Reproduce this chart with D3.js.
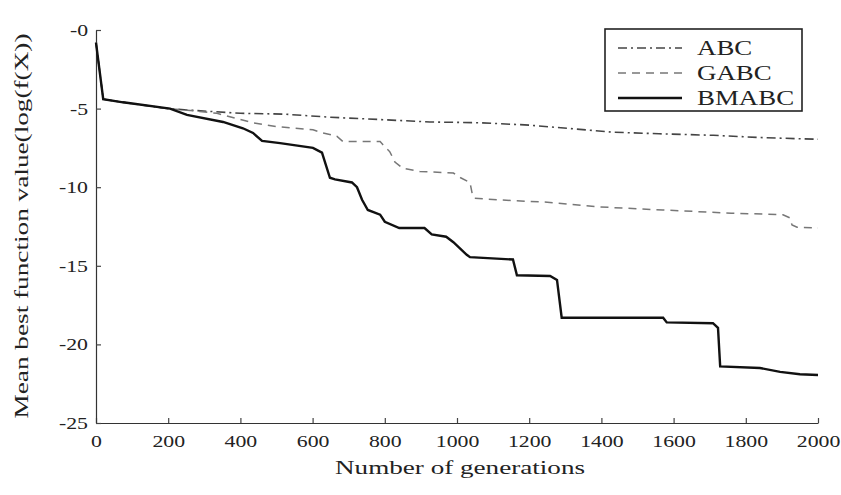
<!DOCTYPE html>
<html>
<head>
<meta charset="utf-8">
<script src="https://cdn.jsdelivr.net/npm/d3@7"></script>
<style>
  body { margin: 0; background: #fff; }
  text { font-family: "Liberation Serif", "DejaVu Serif", serif; fill: #222; }
</style>
</head>
<body>
<div id="chart"></div>
<script>
// series data (generation, log value)
const abcGen = [0, 20, 60, 120, 200, 260, 400, 520, 650, 790, 925, 1064, 1200, 1330, 1430, 1560, 1710, 1850, 2000];
const abcVal = [-0.8, -4.4, -4.55, -4.75, -5.0, -5.1, -5.3, -5.35, -5.55, -5.7, -5.85, -5.9, -6.05, -6.3, -6.5, -6.6, -6.7, -6.85, -6.95];

const gabcGen = [0, 20, 60, 120, 200, 252, 335, 435, 501, 601, 629, 667, 684, 787, 795, 814, 828, 850, 897, 990, 1010, 1036, 1042, 1048, 1150, 1250, 1390, 1570, 1760, 1903, 1922, 1928, 1942, 2000];
const gabcVal = [-0.8, -4.4, -4.55, -4.75, -5.0, -5.1, -5.3, -5.9, -6.15, -6.35, -6.55, -6.75, -7.1, -7.1, -7.3, -7.75, -8.4, -8.8, -9.0, -9.1, -9.4, -9.7, -10.4, -10.7, -10.85, -10.95, -11.25, -11.45, -11.65, -11.75, -11.95, -12.4, -12.55, -12.6];

const bmabcGen = [0, 20, 75, 205, 252, 352, 407, 435, 460, 510, 601, 626, 648, 662, 709, 723, 737, 753, 787, 800, 840, 910, 930, 970, 990, 1027, 1036, 1155, 1166, 1258, 1277, 1290, 1571, 1581, 1709, 1723, 1729, 1839, 1895, 1950, 2000];
const bmabcVal = [-0.8, -4.4, -4.6, -5.0, -5.4, -5.85, -6.25, -6.55, -7.05, -7.2, -7.5, -7.8, -9.4, -9.5, -9.7, -10.0, -10.8, -11.45, -11.75, -12.2, -12.6, -12.6, -13.0, -13.15, -13.5, -14.3, -14.45, -14.6, -15.6, -15.65, -15.9, -18.3, -18.3, -18.6, -18.65, -18.95, -21.4, -21.5, -21.75, -21.9, -21.95];

const xTicks = [0, 200, 400, 600, 800, 1000, 1200, 1400, 1600, 1800, 2000];
const yTicks = [-25, -20, -15, -10, -5, 0];
const yTickLabels = ["-25", "-20", "-15", "-10", "-5", "-0"];
const seriesNames = ["ABC", "GABC", "BMABC"];

const W = 841, H = 495;
const margin = {top: 30, right: 23, bottom: 72, left: 96};
const width = W - margin.left - margin.right;
const height = H - margin.top - margin.bottom;

// text in the reference is stretched along its run
const stretch = 1.28;
function stretchText(sel, len) {
  sel.each(function () {
    let l = len || this.getComputedTextLength() * stretch;
    d3.select(this).attr("textLength", l).attr("lengthAdjust", "spacingAndGlyphs");
  });
}

const svg = d3.select("#chart").append("svg")
  .attr("width", W)
  .attr("height", H);

const g = svg.append("g")
  .attr("transform", `translate(${margin.left}, ${margin.top})`);

const x = d3.scaleLinear().domain([0, 2000]).range([0, width]);
const y = d3.scaleLinear().domain([-25, 0]).range([height, 0]);

// axes, ticks point inward
const xAxis = d3.axisBottom(x).tickValues(xTicks).tickSizeInner(-5).tickSizeOuter(0).tickPadding(9)
  .tickFormat(d3.format("d"));
const yAxis = d3.axisLeft(y).tickValues(yTicks).tickSizeInner(-5).tickSizeOuter(0).tickPadding(8)
  .tickFormat((d, i) => yTickLabels[i]);

const xAxisG = g.append("g").attr("transform", `translate(0, ${height})`).call(xAxis);
const yAxisG = g.append("g").call(yAxis);

[xAxisG, yAxisG].forEach(a => {
  a.select(".domain").attr("stroke", "#333").attr("stroke-width", 1.2);
  a.selectAll(".tick line").attr("stroke", "#444").attr("stroke-width", 1.2);
  a.selectAll(".tick text").attr("font-size", 17).attr("fill", "#222")
    .style("font-family", '"Liberation Serif", "DejaVu Serif", serif');
});
xAxisG.selectAll(".tick text").attr("dy", "0.9em").call(stretchText);
yAxisG.selectAll(".tick text").call(stretchText);

// lines
const line = d3.line().x(d => x(d[0])).y(d => y(d[1]));
const series = [
  {name: "ABC", gen: abcGen, val: abcVal, color: "#444", width: 1.6, dash: "9,4,2,4"},
  {name: "GABC", gen: gabcGen, val: gabcVal, color: "#777", width: 1.5, dash: "8,6"},
  {name: "BMABC", gen: bmabcGen, val: bmabcVal, color: "#111", width: 2.4, dash: null}
];

series.forEach(s => {
  g.append("path")
    .datum(s.gen.map((v, i) => [v, s.val[i]]))
    .attr("fill", "none")
    .attr("stroke", s.color)
    .attr("stroke-width", s.width)
    .attr("stroke-dasharray", s.dash)
    .attr("d", line);
});

// axis labels
svg.append("text")
  .attr("x", 460).attr("y", 474)
  .attr("text-anchor", "middle")
  .attr("font-size", 19)
  .text("Number of generations")
  .call(stretchText, 250);

svg.append("text")
  .attr("transform", "translate(28, 226) rotate(-90)")
  .attr("text-anchor", "middle")
  .attr("font-size", 19)
  .text("Mean best function value(log(f(X))")
  .call(stretchText, 385);

// legend
const legend = svg.append("g").attr("transform", "translate(605, 29)");
legend.append("rect")
  .attr("width", 197).attr("height", 82)
  .attr("fill", "#fff").attr("stroke", "#222").attr("stroke-width", 1.6);

series.forEach((s, i) => {
  let ly = 19 + i * 25;
  legend.append("line")
    .attr("x1", 13).attr("x2", 77).attr("y1", ly).attr("y2", ly)
    .attr("stroke", s.color).attr("stroke-width", s.width)
    .attr("stroke-dasharray", s.dash);
  legend.append("text")
    .attr("x", 92).attr("y", ly + 7)
    .attr("font-size", 21)
    .text(seriesNames[i])
    .call(stretchText);
});
</script>
</body>
</html>
